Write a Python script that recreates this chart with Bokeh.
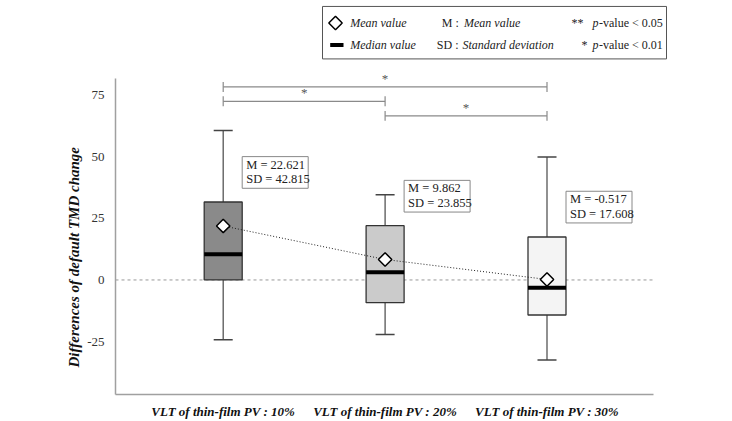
import math
from bokeh.plotting import figure
from bokeh.models import Range1d, FixedTicker, Label, ColumnDataSource, Title
from bokeh.core.properties import value
from bokeh.embed import file_html
from bokeh.resources import INLINE

# ---------------- data ----------------
categories = ["VLT of thin-film PV : 10%", "VLT of thin-film PV : 20%", "VLT of thin-film PV : 30%"]
cat_pos = [1, 2, 3]
whisker_low = [-24.2, -22.1, -32.4]
q1 = [0.0, -9.2, -14.2]
median = [10.4, 3.1, -3.2]
q3 = [31.6, 22.0, 17.4]
whisker_high = [60.6, 34.5, 49.8]
mean = [22.621, 9.862, -0.517]          # as printed in the M boxes
mean_marker = [21.9, 8.3, 0.2]          # diamond positions as drawn in the chart
sd = [42.815, 23.855, 17.608]
box_colors = ["#8a8a8a", "#cbcbcb", "#f4f4f4"]
y_ticks = [-25, 0, 25, 50, 75]
# significance brackets (from category, to category, level, label)
sig_from = [1, 1, 2]
sig_to = [3, 2, 3]
sig_level = [78.2, 72.4, 66.5]
sig_label = ["*", "*", "*"]

FONT_NAME = "'Liberation Serif', 'Times New Roman', serif"
FONT = value(FONT_NAME)

# ---------- layout helpers (canvas px -> data) ----------
X0, DX = 222.7, 161.9
Y0, DY = 282.3, 2.493
def sx(px):
    return 1 + (px - X0) / DX
def sy(py):
    return (Y0 - py) / DY

W, H = 732, 421
p = figure(width=W, height=H, output_backend="svg", toolbar_location=None,
           x_range=Range1d(sx(115), sx(W)), y_range=Range1d(sy(398), sy(0)),
           min_border_left=115, min_border_right=0, min_border_top=0, min_border_bottom=23)
p.outline_line_color = None
p.grid.visible = False
p.background_fill_color = "white"
p.border_fill_color = "white"

# axes
p.yaxis.ticker = FixedTicker(ticks=y_ticks)
p.yaxis.major_label_overrides = {t: str(t) for t in y_ticks}
p.yaxis.bounds = (sy(398), sy(79))
p.yaxis.axis_line_color = "#a0a0a0"
p.yaxis.axis_line_width = 1.5
p.yaxis.major_tick_line_color = None
p.yaxis.minor_tick_line_color = None
p.yaxis.major_label_text_font = FONT_NAME
p.yaxis.major_label_text_font_size = "13px"
p.yaxis.major_label_text_color = "#333333"
p.yaxis.major_label_standoff = 5

p.xaxis.ticker = FixedTicker(ticks=cat_pos)
p.xaxis.major_label_overrides = {c: t for c, t in zip(cat_pos, categories)}
p.xaxis.bounds = (sx(115), sx(653))
p.xaxis.axis_line_color = "#a0a0a0"
p.xaxis.axis_line_width = 1.5
p.xaxis.major_tick_line_color = None
p.xaxis.minor_tick_line_color = None
p.xaxis.major_label_text_font = FONT_NAME
p.xaxis.major_label_text_font_size = "13px"
p.xaxis.major_label_text_font_style = "bold italic"
p.xaxis.major_label_text_color = "#111111"
p.xaxis.major_label_standoff = 3

# y axis title as a left-side title, anchored near the bottom of the frame
p.add_layout(Title(text="Differences of default TMD change", align="left", offset=27,
                   text_font=FONT_NAME, text_font_style="bold italic", text_font_size="15px",
                   text_color="#111111", standoff=5), "left")

# zero reference line
p.segment(x0=[sx(115)], y0=[0], x1=[sx(654)], y1=[0], line_color="#999999",
          line_dash="3 3", line_width=1)

bw = 38 / DX  # box width in data units
cw = 9.5 / DX  # half cap width
src = ColumnDataSource(dict(x=cat_pos, lo=whisker_low, q1=q1, med=median, q3=q3,
                            hi=whisker_high, mean=mean_marker, color=box_colors,
                            left=[c - bw / 2 for c in cat_pos], right=[c + bw / 2 for c in cat_pos],
                            capl=[c - cw for c in cat_pos], capr=[c + cw for c in cat_pos]))

# whiskers
p.segment(x0="x", y0="q3", x1="x", y1="hi", source=src, line_color="#555555", line_width=1.3)
p.segment(x0="x", y0="lo", x1="x", y1="q1", source=src, line_color="#555555", line_width=1.3)
p.segment(x0="capl", y0="hi", x1="capr", y1="hi", source=src, line_color="#444444", line_width=1.5)
p.segment(x0="capl", y0="lo", x1="capr", y1="lo", source=src, line_color="#444444", line_width=1.5)
# boxes
p.quad(left="left", right="right", bottom="q1", top="q3", source=src, fill_color="color",
       line_color="#333333", line_width=1.3)
# medians
p.segment(x0="left", y0="med", x1="right", y1="med", source=src, line_color="black", line_width=4)
# mean line and markers
p.line(x="x", y="mean", source=src, line_color="#222222", line_dash="1 2", line_width=1)
p.scatter(x="x", y="mean", source=src, marker="square", angle=math.pi / 4, size=9.5,
          fill_color="white", line_color="black", line_width=1.5)

# M / SD annotation boxes
ann_dx = 19 / DX
ann_w = 66 / DX
ann_h = 32 / DY
ann_top = [sy(157.7), sy(181.7), sy(192.7)]
p.quad(left=[c + ann_dx for c in cat_pos], right=[c + ann_dx + ann_w for c in cat_pos],
       top=ann_top, bottom=[t - ann_h for t in ann_top],
       fill_color="white", line_color="#888888", line_width=1)
line1 = [f"M = {m:.3f}" for m in mean]
line2 = [f"SD = {s:.3f}" for s in sd]
p.text(x=[c + ann_dx + 4 / DX for c in cat_pos], y=[t - 8 / DY for t in ann_top], text=line1,
       text_font=FONT, text_font_size="12.5px", text_baseline="middle", text_color="#222222")
p.text(x=[c + ann_dx + 4 / DX for c in cat_pos], y=[t - 23 / DY for t in ann_top], text=line2,
       text_font=FONT, text_font_size="12.5px", text_baseline="middle", text_color="#222222")

# significance brackets
tick = 5 / DY
p.segment(x0=sig_from, y0=sig_level, x1=sig_to, y1=sig_level, line_color="#8a8a8a", line_width=1.2)
p.segment(x0=sig_from, y0=[l - tick for l in sig_level], x1=sig_from, y1=[l + tick for l in sig_level],
          line_color="#8a8a8a", line_width=1.2)
p.segment(x0=sig_to, y0=[l - tick for l in sig_level], x1=sig_to, y1=[l + tick for l in sig_level],
          line_color="#8a8a8a", line_width=1.2)
p.text(x=[(a + b) / 2 for a, b in zip(sig_from, sig_to)], y=[l + 1 / DY for l in sig_level],
       text=sig_label, text_font=FONT, text_font_size="13px", text_align="center",
       text_baseline="bottom", text_color="#555555")

# legend box (drawn manually)
p.quad(left=[sx(322)], right=[sx(666)], top=[sy(6)], bottom=[sy(59)], fill_color="white",
       line_color="#555555", line_width=1)
p.scatter(x=[sx(335)], y=[sy(22.7)], marker="square", angle=math.pi / 4, size=9.5,
          fill_color="white", line_color="black", line_width=1.5)
p.segment(x0=[sx(329.7)], y0=[sy(45)], x1=[sx(343)], y1=[sy(45)], line_color="black", line_width=4)
leg_items = [
    (349.7, 22.7, "Mean value", "italic"),
    (349.7, 45, "Median value", "italic"),
    (441.3, 22.7, "M :", "normal"),
    (463.5, 22.7, "Mean value", "italic"),
    (436.3, 45, "SD :", "normal"),
    (462.0, 45, "Standard deviation", "italic"),
    (571.0, 22.7, "**", "normal"),
    (581.0, 45, "*", "normal"),
    (592.0, 22.7, "p", "italic"),
    (592.0, 45, "p", "italic"),
    (598.5, 22.7, "-value < 0.05", "normal"),
    (598.5, 45, "-value < 0.01", "normal"),
]
for px, py, t, st in leg_items:
    p.add_layout(Label(x=sx(px), y=sy(py), text=t, text_font=FONT_NAME,
                       text_font_style=st, text_font_size="12px", text_baseline="middle",
                       text_color="#222222"))

open("out.html", "w").write(file_html(p, INLINE))
